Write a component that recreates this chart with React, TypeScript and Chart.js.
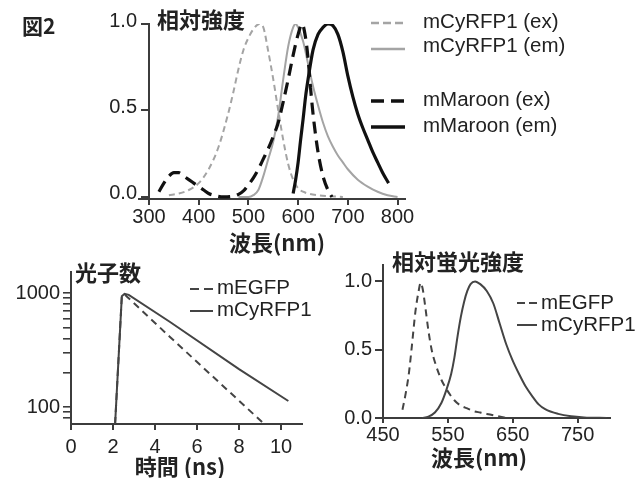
import React, { useEffect, useRef } from 'react';
import { Chart, registerables } from 'chart.js';

Chart.register(...registerables);

// ---------- Top chart: excitation / emission spectra ----------
const spectraTicks = [300, 400, 500, 600, 700, 800];
const relTicks = [0, 0.5, 1.0];

const cyExNm = [340, 360, 380, 400, 420, 440, 460, 470, 480, 490, 500, 510, 522, 530, 540, 550, 560, 570, 580, 590, 600, 610, 620, 640, 660, 690];
const cyExVal = [0.01, 0.02, 0.04, 0.08, 0.16, 0.29, 0.49, 0.61, 0.74, 0.85, 0.92, 0.97, 1.0, 0.98, 0.84, 0.68, 0.5, 0.33, 0.19, 0.1, 0.05, 0.03, 0.02, 0.01, 0.005, 0.0];

const cyEmNm = [480, 500, 510, 520, 530, 540, 550, 560, 570, 580, 590, 595, 600, 610, 620, 630, 640, 650, 660, 670, 680, 690, 700, 720, 740, 760, 780, 800];
const cyEmVal = [0.0, 0.0, 0.01, 0.04, 0.12, 0.22, 0.32, 0.47, 0.68, 0.87, 0.98, 1.0, 0.98, 0.9, 0.77, 0.64, 0.53, 0.43, 0.35, 0.29, 0.24, 0.2, 0.16, 0.1, 0.06, 0.03, 0.01, 0.0];

const maExNm = [320, 330, 340, 350, 360, 370, 380, 390, 400, 410, 420, 430, 450, 470, 480, 490, 500, 510, 520, 530, 540, 550, 560, 570, 580, 590, 600, 608, 615, 620, 625, 630, 640, 650, 660, 668];
const maExVal = [0.03, 0.08, 0.12, 0.14, 0.14, 0.12, 0.1, 0.08, 0.06, 0.04, 0.02, 0.01, 0.0, 0.005, 0.015, 0.035, 0.07, 0.11, 0.16, 0.22, 0.28, 0.35, 0.43, 0.55, 0.68, 0.82, 0.94, 1.0, 0.92, 0.8, 0.63, 0.48, 0.26, 0.12, 0.04, 0.0];

const maEmNm = [590, 595, 600, 605, 610, 615, 620, 630, 640, 650, 660, 670, 680, 690, 700, 710, 720, 730, 740, 750, 760, 770, 782];
const maEmVal = [0.02, 0.1, 0.2, 0.33, 0.45, 0.58, 0.68, 0.85, 0.94, 0.98, 1.0, 0.99, 0.94, 0.84, 0.7, 0.58, 0.48, 0.4, 0.33, 0.26, 0.2, 0.14, 0.08];

// ---------- Bottom left: fluorescence decay ----------
const lifeTicks = [0, 2, 4, 6, 8, 10];
const photonTicks = [80, 90, 100, 200, 300, 400, 500, 600, 700, 800, 900, 1000];
const photonLabels = [100, 1000];
const egTimeNs = [2.1, 2.42, 2.55, 2.68, 4.7, 9.2];
const egCounts = [71, 940, 975, 925, 414, 71];
const cyTimeNs = [2.1, 2.42, 2.55, 2.75, 4.7, 8.0, 10.35];
const cyCounts = [71, 940, 985, 965, 560, 215, 113];

// ---------- Bottom right: emission spectra ----------
const emTicks = [450, 550, 650, 750];
const egEmNm = [480, 485, 490, 495, 500, 505, 508, 511, 515, 520, 525, 530, 540, 548, 560, 570, 580, 590, 600, 610, 625, 640];
const egEmVal = [0.06, 0.18, 0.33, 0.55, 0.78, 0.93, 0.99, 0.95, 0.82, 0.64, 0.5, 0.41, 0.28, 0.21, 0.13, 0.09, 0.07, 0.05, 0.04, 0.03, 0.015, 0.0];
const cyEm2Nm = [510, 520, 530, 540, 548, 555, 560, 565, 570, 575, 580, 585, 592, 600, 610, 620, 630, 640, 650, 660, 670, 680, 690, 700, 720, 740, 760, 795];
const cyEm2Val = [0.0, 0.01, 0.04, 0.11, 0.21, 0.32, 0.44, 0.6, 0.74, 0.85, 0.93, 0.98, 1.0, 0.98, 0.93, 0.84, 0.69, 0.54, 0.42, 0.32, 0.23, 0.16, 0.1, 0.065, 0.03, 0.012, 0.004, 0.0];

// ---------- styles ----------
const AXIS = '#3c3c3c';
const TEXT = '#222222';
const LATIN = "'Liberation Sans', Arial, sans-serif";
const CJK = "'Noto Sans CJK JP', sans-serif";
const LIGHT = '#a4a4a4';
const DARK = '#111111';
const MID = '#444444';

const pts = (xs: number[], ys: number[]) => xs.map((x, i) => ({ x, y: ys[i] }));
const fixedTicks = (values: number[]) => (scale: any) => {
  scale.ticks = values.map((v) => ({ value: v }));
};

function axisStyle(tickLength: number, width = 2) {
  return {
    border: { display: true, color: AXIS, width: 2 },
    grid: { display: true, drawOnChartArea: false, drawTicks: true, tickLength, color: AXIS, lineWidth: width },
  };
}

interface TextItem { text: string; x: number; y: number; font: string; align?: CanvasTextAlign }
interface LegendItem { text: string; x1: number; x2: number; y: number; ty: number; tx: number; color: string; width: number; dash: number[] }

function decor(id: string, texts: TextItem[], legend: LegendItem[], legendFont: string, stub = 0) {
  return {
    id,
    afterDraw(chart: any) {
      const { ctx, chartArea } = chart;
      ctx.save();
      if (stub > 0) {
        ctx.strokeStyle = AXIS;
        ctx.lineWidth = 2;
        ctx.setLineDash([]);
        ctx.beginPath();
        ctx.moveTo(chartArea.left - stub, chartArea.bottom);
        ctx.lineTo(chartArea.left, chartArea.bottom);
        ctx.stroke();
      }
      ctx.fillStyle = TEXT;
      ctx.textBaseline = 'middle';
      for (const t of texts) {
        ctx.font = t.font;
        ctx.textAlign = t.align || 'left';
        ctx.fillText(t.text, t.x, t.y);
      }
      for (const l of legend) {
        ctx.strokeStyle = l.color;
        ctx.lineWidth = l.width;
        ctx.setLineDash(l.dash);
        ctx.beginPath();
        ctx.moveTo(l.x1, l.y);
        ctx.lineTo(l.x2, l.y);
        ctx.stroke();
        ctx.setLineDash([]);
        ctx.font = legendFont;
        ctx.textAlign = 'left';
        ctx.fillStyle = TEXT;
        ctx.fillText(l.text, l.tx, l.ty);
      }
      ctx.restore();
    },
  };
}

const tickFont = { family: LATIN, size: 20 };
const titleFont = `bold 22px ${CJK}`;
const legendFont = `20.5px ${LATIN}`;

function spectraConfig(): any {
  const line = (label: string, xs: number[], ys: number[], color: string, width: number, dash: number[], order: number) => ({
    label, data: pts(xs, ys), borderColor: color, borderWidth: width, borderDash: dash,
    pointRadius: 0, cubicInterpolationMode: 'monotone', fill: false, order,
  });
  return {
    type: 'line',
    data: {
      datasets: [
        line('mCyRFP1 (ex)', cyExNm, cyExVal, LIGHT, 2, [6, 4], 3),
        line('mCyRFP1 (em)', cyEmNm, cyEmVal, LIGHT, 2, [], 2),
        line('mMaroon (ex)', maExNm, maExVal, DARK, 3.2, [12, 7], 1),
        line('mMaroon (em)', maEmNm, maEmVal, DARK, 3.2, [], 0),
      ],
    },
    options: {
      animation: false,
      responsive: false,
      layout: { padding: { left: 99, top: 24, right: 233, bottom: 21 } },
      plugins: { legend: { display: false }, tooltip: { enabled: false } },
      scales: {
        x: {
          type: 'linear', min: 300, max: 815,
          afterBuildTicks: fixedTicks(spectraTicks),
          afterFit: (s: any) => { s.height = 40; },
          ticks: { font: tickFont, color: TEXT, padding: 0, maxRotation: 0, autoSkip: false, callback: (v: any) => String(v) },
          ...axisStyle(6),
        },
        y: {
          type: 'linear', min: -0.012, max: 1.0,
          afterBuildTicks: fixedTicks(relTicks),
          afterFit: (s: any) => { s.width = 50; },
          ticks: { font: tickFont, color: TEXT, padding: 4, labelOffset: -3, autoSkip: false, callback: (v: any) => Number(v).toFixed(1) },
          ...axisStyle(8),
        },
      },
    },
    plugins: [
      decor('decorTop', [
        { text: '図2', x: 22, y: 26, font: `bold 21px ${CJK}` },
        { text: '相対強度', x: 157, y: 20, font: titleFont },
        { text: '波長(nm)', x: 277, y: 243, font: titleFont, align: 'center' },
      ], [
        { text: 'mCyRFP1 (ex)', x1: 371, x2: 405, y: 23, tx: 423, ty: 22, color: LIGHT, width: 2.5, dash: [8, 4] },
        { text: 'mCyRFP1 (em)', x1: 371, x2: 405, y: 49, tx: 423, ty: 46, color: LIGHT, width: 2.5, dash: [] },
        { text: 'mMaroon (ex)', x1: 371, x2: 405, y: 101, tx: 423, ty: 100, color: DARK, width: 3.5, dash: [13, 7] },
        { text: 'mMaroon (em)', x1: 371, x2: 405, y: 127, tx: 423, ty: 126, color: DARK, width: 3.5, dash: [] },
      ], legendFont, 11),
    ],
  };
}

function decayConfig(): any {
  return {
    type: 'line',
    data: {
      datasets: [
        { label: 'mEGFP', data: pts(egTimeNs, egCounts), borderColor: MID, borderWidth: 2, borderDash: [7, 5], pointRadius: 0, tension: 0, fill: false },
        { label: 'mCyRFP1', data: pts(cyTimeNs, cyCounts), borderColor: MID, borderWidth: 2, pointRadius: 0, tension: 0, fill: false },
      ],
    },
    options: {
      animation: false,
      responsive: false,
      layout: { padding: { left: 9, top: 22, right: 18, bottom: 24 } },
      plugins: { legend: { display: false }, tooltip: { enabled: false } },
      scales: {
        x: {
          type: 'linear', min: 0, max: 11,
          afterBuildTicks: fixedTicks(lifeTicks),
          afterFit: (s: any) => { s.height = 30; },
          ticks: { font: tickFont, color: TEXT, padding: 5, maxRotation: 0, autoSkip: false, callback: (v: any) => String(v) },
          ...axisStyle(6),
        },
        y: {
          type: 'logarithmic', min: 71, max: 1530,
          afterBuildTicks: fixedTicks(photonTicks),
          afterFit: (s: any) => { s.width = 62; },
          ticks: { font: tickFont, color: TEXT, padding: 3, autoSkip: false, callback: (v: any) => (photonLabels.includes(Number(v)) ? String(v) : '') },
          ...axisStyle(8, 1.6),
        },
      },
    },
    plugins: [
      decor('decorDecay', [
        { text: '光子数', x: 75, y: 23, font: titleFont },
        { text: '時間 (ns)', x: 180, y: 217, font: titleFont, align: 'center' },
      ], [
        { text: 'mEGFP', x1: 190, x2: 213, y: 39, tx: 217, ty: 38, color: MID, width: 2, dash: [9, 5] },
        { text: 'mCyRFP1', x1: 190, x2: 213, y: 61, tx: 217, ty: 60, color: MID, width: 2, dash: [] },
      ], legendFont),
    ],
  };
}

function emissionConfig(): any {
  return {
    type: 'line',
    data: {
      datasets: [
        { label: 'mEGFP', data: pts(egEmNm, egEmVal), borderColor: MID, borderWidth: 2, borderDash: [7, 5], pointRadius: 0, cubicInterpolationMode: 'monotone', fill: false },
        { label: 'mCyRFP1', data: pts(cyEm2Nm, cyEm2Val), borderColor: MID, borderWidth: 2, pointRadius: 0, cubicInterpolationMode: 'monotone', fill: false },
      ],
    },
    options: {
      animation: false,
      responsive: false,
      layout: { padding: { left: 8, top: 13, right: 28, bottom: 30 } },
      plugins: { legend: { display: false }, tooltip: { enabled: false } },
      scales: {
        x: {
          type: 'linear', min: 450, max: 800,
          afterBuildTicks: fixedTicks(emTicks),
          afterFit: (s: any) => { s.height = 30; },
          ticks: { font: tickFont, color: TEXT, padding: 0, maxRotation: 0, autoSkip: false, callback: (v: any) => String(v) },
          ...axisStyle(5),
        },
        y: {
          type: 'linear', min: 0, max: 1.12,
          afterBuildTicks: fixedTicks(relTicks),
          afterFit: (s: any) => { s.width = 55; },
          ticks: { font: tickFont, color: TEXT, padding: 3, autoSkip: false, callback: (v: any) => Number(v).toFixed(1) },
          ...axisStyle(8),
        },
      },
    },
    plugins: [
      decor('decorEm', [
        { text: '相対蛍光強度', x: 72, y: 12, font: titleFont },
        { text: '波長(nm)', x: 159, y: 208, font: titleFont, align: 'center' },
      ], [
        { text: 'mEGFP', x1: 197, x2: 217, y: 53, tx: 221, ty: 53, color: MID, width: 2, dash: [8, 4] },
        { text: 'mCyRFP1', x1: 197, x2: 217, y: 75, tx: 221, ty: 75, color: MID, width: 2, dash: [] },
      ], legendFont),
    ],
  };
}

function ChartCanvas({ build, left, top, width, height }: { build: () => any; left: number; top: number; width: number; height: number }) {
  const ref = useRef<HTMLCanvasElement>(null);
  useEffect(() => {
    const chart = new Chart(ref.current as HTMLCanvasElement, build());
    return () => chart.destroy();
  }, []);
  return (
    <canvas
      ref={ref}
      width={width}
      height={height}
      style={{ position: 'absolute', left, top, width, height }}
    />
  );
}

export default function App() {
  return (
    <div style={{ position: 'absolute', left: 0, top: 0, width: 638, height: 478, background: '#ffffff', overflow: 'hidden' }}>
      <ChartCanvas build={decayConfig} left={0} top={250} width={320} height={228} />
      <ChartCanvas build={emissionConfig} left={320} top={250} width={318} height={228} />
      <ChartCanvas build={spectraConfig} left={0} top={0} width={638} height={260} />
    </div>
  );
}
